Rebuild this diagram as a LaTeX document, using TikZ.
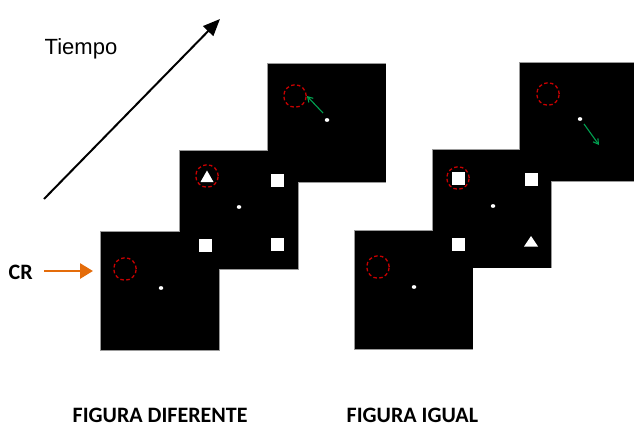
\documentclass[tikz,border=0pt]{standalone}
\usepackage{fontspec}
\setmainfont{Liberation Sans}
\newfontfamily\calib{Carlito}
\usetikzlibrary{arrows.meta,shapes.geometric}
\definecolor{crorange}{RGB}{228,108,10}
\definecolor{cuegreen}{RGB}{0,160,80}
\definecolor{cuered}{RGB}{200,0,0}
\tikzset{
  framebox/.style={rectangle,inner sep=0pt,minimum width=118pt,minimum height=118pt,fill=black},
  frameedge/.style={draw=black!40,line width=1.6pt},
  cue/.style={circle,inner sep=0pt,minimum size=22.5pt,draw=cuered,line width=1.3pt,dash pattern=on 3.5pt off 2.5pt},
  sq/.style={rectangle,inner sep=0pt,minimum size=13pt,fill=white},
  fixdot/.style={ellipse,inner sep=0pt,minimum width=4.5pt,minimum height=3.8pt,fill=white},
  greenarrow/.style={draw=cuegreen,line width=1.1pt,-{Straight Barb[length=5pt,width=6pt]}},
  lbl/.style={inner sep=0pt,anchor=base west,font=\calib\bfseries\fontsize{22}{24}\selectfont}
}
\begin{document}
\begin{tikzpicture}[x=1pt,y=-1pt]
\useasboundingbox (0,0) rectangle (634,426);
% frame borders (outline of union)
\foreach \cx/\cy in {160/291,239/210,326.5/123,413.5/290,492/208.5,579/122}{
  \draw[frameedge] (\cx-59,\cy-59) rectangle (\cx+59,\cy+59);
}
% frames
\node[framebox] (L1) at (160,291) {};
\node[framebox] (L2) at (239,210) {};
\node[framebox] (L3) at (326.5,123) {};
\node[framebox] (R1) at (413.5,290) {};
\node[framebox] (R2) at (492,208.5) {};
\node[framebox] (R3) at (579,122) {};
% left sequence
\node[cue] (cL1) at (125,269) {};
\node[fixdot] (dL1) at (161,288) {};
\node[cue] (cL2) at (207,176) {};
\fill[white] (200.5,182) -- (213.5,182) -- (207,170.5) -- cycle;
\node[sq] (sL2a) at (277,180) {};
\node[sq] (sL2b) at (205,245) {};
\node[sq] (sL2c) at (277,244) {};
\node[fixdot] (dL2) at (239,207) {};
\node[cue] (cL3) at (295,96) {};
\node[fixdot] (dL3) at (327,120) {};
\coordinate (gL3) at (323,113);
\draw[greenarrow] (gL3) -- (cL3.east);
% right sequence
\node[cue] (cR1) at (378,267) {};
\node[fixdot] (dR1) at (414,287) {};
\node[cue] (cR2) at (458,178) {};
\node[sq] (sR2a) at (458,178) {};
\node[sq] (sR2b) at (531,179) {};
\node[sq] (sR2c) at (458,244) {};
\fill[white] (524,246.5) -- (538,246.5) -- (531,236) -- cycle;
\node[fixdot] (dR2) at (493,206) {};
\node[cue] (cR3) at (548,94) {};
\node[fixdot] (dR3) at (580,119) {};
\coordinate (gR3a) at (584,124);
\coordinate (gR3b) at (599,145);
\draw[greenarrow] (gR3a) -- (gR3b);
% time arrow
\node[inner sep=0pt,anchor=base west,font=\fontsize{22}{24}\selectfont] (tiempo) at (44.5,54.5) {Tiempo};
\coordinate (t0) at (44,199);
\coordinate (t1) at (220,19);
\draw[line width=2pt,-{Triangle[length=17pt,width=14pt]}] (t0) -- (t1);
% CR
\node[lbl] (cr) at (8.5,279) {CR};
\coordinate (crend) at (93,271);
\draw[crorange,line width=2.8pt,-{Triangle[length=13pt,width=15pt]}] (44,271) -- (crend);
% labels
\node[lbl] (dif) at (72.5,422) {FIGURA DIFERENTE};
\node[lbl] (igu) at (346.5,422) {FIGURA IGUAL};
\end{tikzpicture}
\end{document}
